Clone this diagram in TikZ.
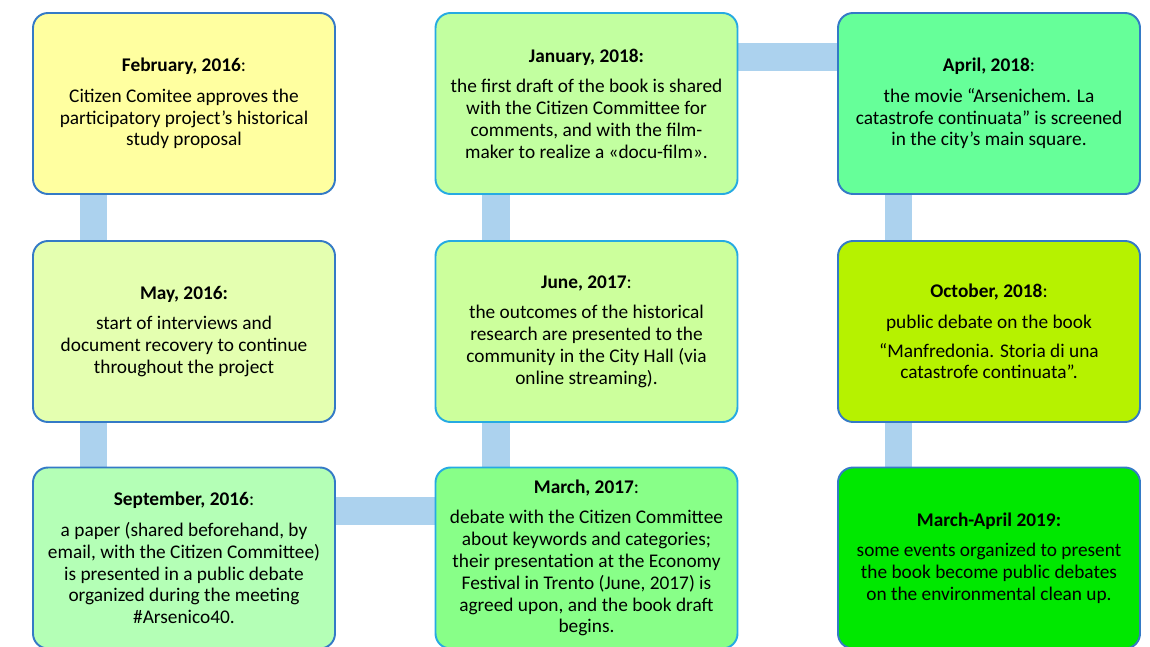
\documentclass[tikz,border=0pt]{standalone}
\usepackage{fontspec}
\setmainfont{Carlito}
\usetikzlibrary{backgrounds}

\definecolor{febfill}{RGB}{255,255,160}
\definecolor{mayfill}{RGB}{228,255,176}
\definecolor{sepfill}{RGB}{180,255,182}
\definecolor{marfill}{RGB}{136,255,136}
\definecolor{junfill}{RGB}{204,255,156}
\definecolor{janfill}{RGB}{194,255,160}
\definecolor{aprfill}{RGB}{102,255,153}
\definecolor{octfill}{RGB}{182,242,0}
\definecolor{lastfill}{RGB}{0,232,0}
\definecolor{edgeblue}{RGB}{52,122,198}
\definecolor{edgecyan}{RGB}{38,170,226}
\definecolor{linkblue}{RGB}{172,210,238}

\begin{document}
\begin{tikzpicture}


        % Setup the styles for the boxes and the links
        \tikzset{event box/.style={draw=edgeblue,
                                   line width=1.1pt,
                                   rounded corners=0.3cm,
                                   minimum width=6.04cm,
                                   minimum height=3.62cm,
                                   align=center,
                                   font=\fontsize{11}{12.4}\selectfont},
                 link/.style={draw=linkblue, line width=15.5pt}}

\useasboundingbox (0,0) rectangle (23,12.92);

% Add the events
\node[event box, fill=febfill] at (3.68,10.85) (feb16) {\textbf{February, 2016}:\\[5pt]
  Citizen Comitee approves the\\ participatory project’s historical\\ study proposal};

\node[event box, fill=mayfill] at (3.68,6.29) (may16) {\textbf{May, 2016:}\\[5pt]
  start of interviews and\\ document recovery to continue\\ throughout the project};

\node[event box, fill=sepfill] at (3.68,1.76) (sep16) {\textbf{September, 2016}:\\[5pt]
  a paper (shared beforehand, by\\ email, with the Citizen Committee)\\ is presented in a public debate\\ organized during the meeting\\ \#Arsenico40.};

\node[event box, draw=edgecyan, fill=marfill] at (11.73,1.76) (mar17) {\textbf{March, 2017}:\\[5pt]
  debate with the Citizen Committee\\ about keywords and categories;\\ their presentation at the Economy\\ Festival in Trento (June, 2017) is\\ agreed upon, and the book draft\\ begins.};

\node[event box, draw=edgecyan, fill=junfill] at (11.73,6.29) (jun17) {\textbf{June, 2017}:\\[5pt]
  the outcomes of the historical\\ research are presented to the\\ community in the City Hall (via\\ online streaming).};

\node[event box, draw=edgecyan, fill=janfill] at (11.73,10.85) (jan18) {\textbf{January, 2018:}\\[5pt]
  the first draft of the book is shared\\ with the Citizen Committee for\\ comments, and with the film-\\ maker to realize a «docu-film».};

\node[event box, fill=aprfill] at (19.78,10.85) (apr18) {\textbf{April, 2018}:\\[5pt]
  the movie “Arsenichem. La\\ catastrofe continuata” is screened\\ in the city’s main square.};

\node[event box, fill=octfill] at (19.78,6.29) (oct18) {\textbf{October, 2018}:\\[5pt]
  public debate on the book\\[4pt] “Manfredonia. Storia di una\\ catastrofe continuata”.};

\node[event box, fill=lastfill] at (19.78,1.76) (mar19) {\textbf{March-April 2019:}\\[5pt]
  some events organized to present\\ the book become public debates\\ on the environmental clean up.};

% Link the events, behind the boxes
\begin{pgfonlayer}{background}
  \draw[link] ([xshift=1.23cm]feb16.south west) -- ([xshift=1.23cm]may16.north west);
  \draw[link] ([xshift=1.23cm]may16.south west) -- ([xshift=1.23cm]sep16.north west);
  \draw[link] ([yshift=-0.89cm]sep16.north east) -- ([yshift=-0.89cm]mar17.north west);
  \draw[link] ([xshift=1.23cm]mar17.north west) -- ([xshift=1.23cm]jun17.south west);
  \draw[link] ([xshift=1.23cm]jun17.north west) -- ([xshift=1.23cm]jan18.south west);
  \draw[link] ([yshift=-0.9cm]jan18.north east) -- ([yshift=-0.9cm]apr18.north west);
  \draw[link] ([xshift=1.23cm]apr18.south west) -- ([xshift=1.23cm]oct18.north west);
  \draw[link] ([xshift=1.23cm]oct18.south west) -- ([xshift=1.23cm]mar19.north west);
\end{pgfonlayer}
\end{tikzpicture}
\end{document}
